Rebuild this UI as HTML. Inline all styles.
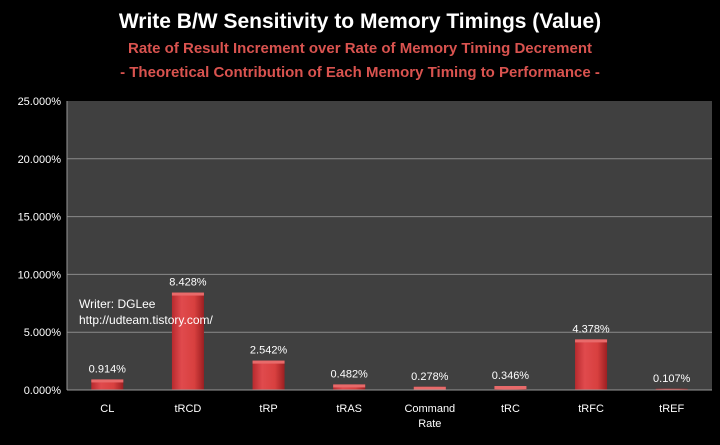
<!DOCTYPE html>
<html><head><meta charset="utf-8"><style>
body{margin:0;background:#000;width:720px;height:440px;overflow:hidden;font-family:"Liberation Sans",sans-serif}
</style></head><body>
<svg width="720" height="440" xmlns="http://www.w3.org/2000/svg">
<defs>
<linearGradient id="bg" x1="0" x2="1" y1="0" y2="0"><stop offset="0" stop-color="#b82a2e"/><stop offset="0.3" stop-color="#e04a4d"/><stop offset="0.7" stop-color="#d8403f"/><stop offset="1" stop-color="#9c1f22"/></linearGradient>
</defs>
<text x="360" y="28" text-anchor="middle" fill="#fff" font-size="21" font-weight="bold">Write B/W Sensitivity to Memory Timings (Value)</text>
<text x="360" y="53" text-anchor="middle" fill="#d9534f" font-size="15" font-weight="bold">Rate of Result Increment over Rate of Memory Timing Decrement</text>
<text x="360" y="77" text-anchor="middle" fill="#d9534f" font-size="15" font-weight="bold">- Theoretical Contribution of Each Memory Timing to Performance -</text>
<rect x="67" y="101" width="645" height="289" fill="#404040"/>
<g id="grid"></g><g id="bars"></g>
<line x1="67" y1="101" x2="67" y2="390" stroke="#999"/>
<line x1="67" y1="390" x2="712" y2="390" stroke="#999"/>
<text x="79" y="308" fill="#fff" font-size="12">Writer: DGLee</text>
<text x="79" y="324" fill="#fff" font-size="12">http://udteam.tistory.com/</text>
</svg>
<script>
const categories=["CL","tRCD","tRP","tRAS","Command Rate","tRC","tRFC","tREF"];
const values=[0.914,8.428,2.542,0.482,0.278,0.346,4.378,0.107];
const ticks=[0,5,10,15,20,25];
const NS="http://www.w3.org/2000/svg";
const x0=67,x1=712,y0=390,yTop=101,maxV=25;
const y=v=>y0-(v/maxV)*(y0-yTop);
const bw=(x1-x0)/categories.length;
const xc=i=>x0+bw*(i+0.5);
const svg=document.querySelector('svg');
function mk(t,a,p){const e=document.createElementNS(NS,t);for(const k in a)e.setAttribute(k,a[k]);(p||svg).appendChild(e);return e;}
const grid=document.getElementById('grid'),bars=document.getElementById('bars');
ticks.forEach(t=>{
 if(t>0&&t<25){const l=mk('line',{x1:x0,x2:x1,y1:y(t),y2:y(t),stroke:'#8a8a8a'},grid);
 
 }
 const tx=mk('text',{x:x0-6,y:y(t)+4,'text-anchor':'end',fill:'#fff','font-size':11});
 tx.textContent=t.toFixed(3)+'%';
 
 
});
categories.forEach((c,i)=>{
 const v=values[i],top=y(v),h=y0-top;
 const r=mk('rect',{x:xc(i)-16,y:top,width:32,height:h,fill:'url(#bg)'},bars);
 
 
 if(h>3){const cap=mk('rect',{x:xc(i)-16,y:top,width:32,height:Math.min(3,h),fill:'#e86a6a'},bars);
 
 }
 const lb=mk('text',{x:xc(i),y:top-7,'text-anchor':'middle',fill:'#fff','font-size':11});
 lb.textContent=v.toFixed(3)+'%';
 
 
 const words=c.split(' ');
 words.forEach((w,j)=>{const t=mk('text',{x:xc(i),y:412+j*15,'text-anchor':'middle',fill:'#fff','font-size':11});
 t.textContent=w;
 
 });
});
</script>
</body></html>
